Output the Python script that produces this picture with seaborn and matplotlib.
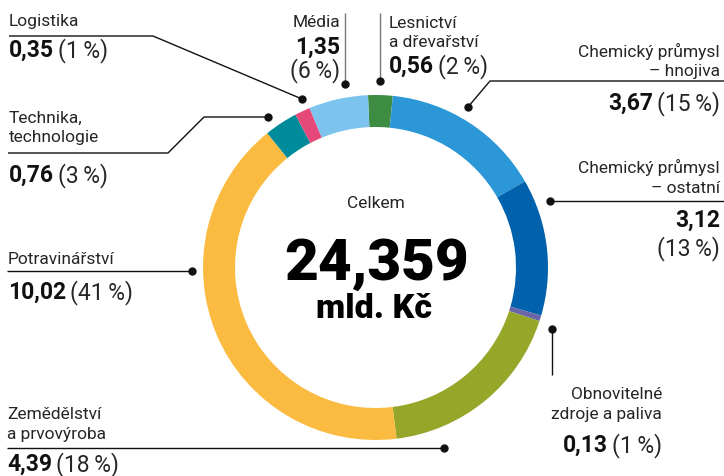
import matplotlib
matplotlib.use("Agg")
import matplotlib.pyplot as plt
import seaborn as sns

# data: export by sector, bn CZK
sectors = ["Lesnictví\na dřevařství", "Chemický průmysl\n– hnojiva", "Chemický průmysl\n– ostatní",
           "Obnovitelné\nzdroje a paliva", "Zemědělství\na prvovýroba", "Potravinářství",
           "Technika,\ntechnologie", "Logistika", "Média"]
values = [0.56, 3.67, 3.12, 0.13, 4.39, 10.02, 0.76, 0.35, 1.35]
shares = [2, 15, 13, 1, 18, 41, 3, 1, 6]
total = 24.359
colors = ["#3e8c41", "#2b97d7", "#0061ac", "#6b65a9", "#95a629", "#fbba40",
          "#008b9b", "#e5497a", "#7cc3ee"]

sns.set_theme(style="white")
plt.rcParams['font.family'] = ['Roboto', 'DejaVu Sans']

W, H = 724, 476
fig = plt.figure(figsize=(7.24, 4.76), dpi=100)
ax = fig.add_axes([0, 0, 1, 1])

# donut (pixel coordinates, y measured from top)
cx, cy, R = 375.5, 267.5, 172.5
ax.pie(values, colors=colors, startangle=92.5, counterclock=False,
       center=(cx, H - cy), radius=R, frame=True,
       wedgeprops=dict(width=32, linewidth=0))

ax.set_xlim(0, W)
ax.set_ylim(0, H)
ax.set_aspect('equal')
ax.axis('off')

renderer = fig.canvas.get_renderer()
ink = "#111111"


def txt(x, y, s, ha='left', size=12.5, weight='normal', color="#262626"):
    return ax.text(x, H - y, s, ha=ha, va='baseline', fontsize=size,
                   fontweight=weight, color=color)


def width(t):
    return t.get_window_extent(renderer=renderer).width


def fmt(v):
    return f"{v:.2f}".replace('.', ',')


def value_line(x, y, i, ha='left'):
    v = fmt(values[i])
    p = f"({shares[i]}\u2009%)"
    if ha == 'left':
        t = txt(x, y, v, size=16.5, weight='bold', color=ink)
        txt(x + width(t) + 4, y, p, size=16.5)
    else:
        t = txt(x, y, p, ha='right', size=16.5)
        txt(x - width(t) - 4, y, v, ha='right', size=16.5, weight='bold', color=ink)


def leader(pts, color="#111111"):
    xs = [p[0] for p in pts]
    ys = [H - p[1] for p in pts]
    ax.plot(xs, ys, color=color, lw=1.0, solid_capstyle='butt')
    ax.plot(xs[-1], ys[-1], 'o', color="#111111", ms=5)


def label(x, ys, i, ha='left'):
    for line, y in zip(sectors[i].split("\n"), ys):
        txt(x, y, line, ha=ha)


# Lesnictví
label(389, [28, 47], 0)
value_line(389, 73, 0)
leader([(380, 13), (380, 81)], color="#777777")

# Chemický průmysl – hnojiva
label(720, [57, 76], 1, ha='right')
value_line(720, 110, 1, ha='right')
leader([(724, 81), (490, 81), (468, 107)])

# Chemický průmysl – ostatní
label(720, [173, 193], 2, ha='right')
txt(720, 227, fmt(values[2]), ha='right', size=16.5, weight='bold', color=ink)
txt(720, 255, f"({shares[2]}\u2009%)", ha='right', size=16.5)
leader([(724, 201), (550, 201)])

# Obnovitelné zdroje
label(662, [399, 419], 3, ha='right')
value_line(662, 452, 3, ha='right')
leader([(552, 375), (552, 329)])

# Zemědělství
label(7, [419, 439], 4)
value_line(7, 471, 4)
leader([(7, 448), (444, 448)])

# Potravinářství
label(8, [264], 5)
value_line(8, 299, 5)
leader([(7, 271), (192, 271)])

# Technika
label(9, [123, 142], 6)
value_line(9, 182, 6)
leader([(8, 153), (168, 153), (204, 117), (268, 117)])

# Logistika
label(9, [26], 7)
value_line(9, 57, 7)
leader([(9, 36), (153, 36), (302, 99)])

# Média
label(340, [27], 8, ha='right')
txt(340, 54, fmt(values[8]), ha='right', size=16.5, weight='bold', color=ink)
txt(340, 77, f"({shares[8]}\u2009%)", ha='right', size=16.5)
leader([(345, 13), (345, 84)], color="#777777")

# centre
txt(cx, 208, "Celkem", ha='center', size=12.5)
txt(cx + 1, 280, f"{total:.3f}".replace('.', ','), ha='center', size=42, weight='black', color="#000000")
txt(cx - 1, 318, "mld. Kč", ha='center', size=24.5, weight='black', color="#000000")

fig.savefig("out.png", dpi=100)
